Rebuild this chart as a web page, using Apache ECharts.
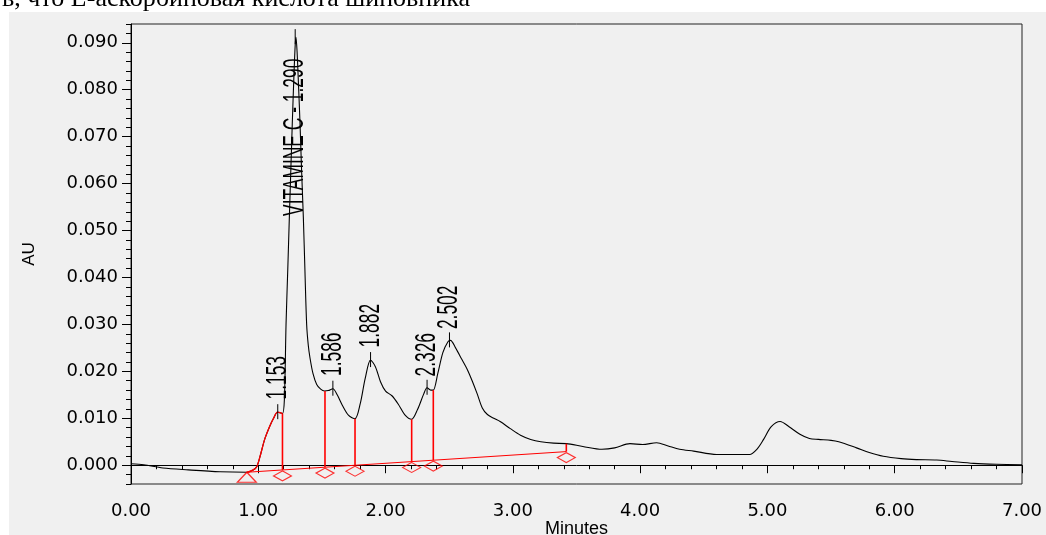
<!DOCTYPE html>
<html>
<head>
<meta charset="utf-8">
<script src="https://cdn.jsdelivr.net/npm/echarts@6/dist/echarts.min.js"></script>
<style>
  html, body { margin: 0; padding: 0; background: #fff; }
  #chart { width: 1046px; height: 535px; }
</style>
</head>
<body>
<div id="chart"></div>
<script>
// chromatogram trace (minutes, AU)
const times = [0.00,0.10,0.25,0.45,0.70,0.91,0.96,0.99,1.02,1.05,1.09,1.12,1.15,1.17,1.19,1.205,1.218,1.232,1.244,1.257,1.267,1.28,1.29,1.296,1.305,1.316,1.328,1.34,1.354,1.367,1.38,1.393,1.406,1.43,1.459,1.49,1.52,1.55,1.586,1.62,1.66,1.71,1.76,1.80,1.84,1.882,1.92,1.96,2.00,2.05,2.10,2.15,2.205,2.25,2.30,2.326,2.355,2.375,2.41,2.45,2.49,2.51,2.55,2.60,2.64,2.68,2.72,2.76,2.80,2.85,2.90,2.98,3.06,3.14,3.22,3.32,3.42,3.55,3.70,3.80,3.92,4.02,4.13,4.22,4.31,4.42,4.60,4.75,4.86,4.92,4.97,5.03,5.10,5.17,5.255,5.33,5.40,5.50,5.56,5.70,5.80,5.91,6.05,6.17,6.33,6.45,6.62,6.80,7.00]
const signal = [0.0003,0.0001,-0.0006,-0.0010,-0.0014,-0.0015,-0.0010,-0.0002,0.0025,0.0055,0.0083,0.0100,0.0113,0.0112,0.0110,0.0140,0.0300,0.0420,0.0528,0.0640,0.0727,0.0830,0.0895,0.0912,0.0880,0.0810,0.0727,0.0630,0.0528,0.0410,0.0300,0.0255,0.0229,0.0195,0.0172,0.0162,0.0158,0.0159,0.0163,0.0150,0.0128,0.0106,0.0099,0.0130,0.0185,0.0224,0.0210,0.0178,0.0158,0.0148,0.0130,0.0108,0.0098,0.0118,0.0152,0.0165,0.0160,0.0160,0.0195,0.0240,0.0263,0.0266,0.0250,0.0225,0.0205,0.0180,0.0152,0.0122,0.0108,0.0100,0.0093,0.0078,0.0064,0.0055,0.0050,0.0047,0.0046,0.0040,0.0034,0.0037,0.0046,0.0044,0.0048,0.0041,0.0034,0.0030,0.0023,0.0023,0.0023,0.0035,0.0055,0.0082,0.0093,0.0082,0.0066,0.0057,0.0055,0.0053,0.0050,0.0037,0.0027,0.0019,0.0014,0.0012,0.0011,0.0008,0.0004,0.0002,0.0001]
// first integrated peak drawn in red (index range in the trace)
const redFrom = 5
const redTo = 14

// peak labels
const peakTimes = [1.153, 1.290, 1.586, 1.882, 2.326, 2.502]
const peakApex = [0.0113, 0.0912, 0.0163, 0.0224, 0.0165, 0.0266]
const peakLabelAt = [0.0140, 0.0531, 0.0190, 0.0251, 0.0189, 0.0290]
const peakNames = ['1.153', 'VITAMINE C - 1.290', '1.586', '1.882', '2.326', '2.502']

// integration baseline and drop lines
const baseTimes = [0.91, 3.42]
const baseValues = [-0.0015, 0.0029]
const dropTimes = [1.19, 1.524, 1.76, 2.205, 2.375, 3.42]
const dropTops = [0.0110, 0.0158, 0.0099, 0.0098, 0.0160, 0.0046]
const dropBases = [-0.0010, -0.0004, 0.0000, 0.0008, 0.0011, 0.0029]

// axis ticks
const yTicks = [0, 0.01, 0.02, 0.03, 0.04, 0.05, 0.06, 0.07, 0.08, 0.09]
const yMinorTicks = []
for (let i = -2; i <= 47; i++) yMinorTicks.push(+(i * 0.002).toFixed(3))

const chart = echarts.init(document.getElementById('chart'))

const trace = times.map((t, i) => [t, signal[i]])
const redTrace = trace.slice(redFrom, redTo + 1)

const renderPeakLabel = (params, api) => {
  const i = params.dataIndex
  const p = api.coord([api.value(0), api.value(1)])
  const q = api.coord([api.value(0), api.value(2)])
  return {
    type: 'group',
    children: [
      { type: 'line', shape: { x1: p[0], y1: p[1] - 8, x2: p[0], y2: p[1] + 7 }, style: { stroke: '#000', lineWidth: 1 } },
      {
        type: 'text', x: p[0], y: q[1], rotation: Math.PI / 2, scaleX: 0.6,
        style: { text: peakNames[i], font: '29px "Liberation Sans", Arial, sans-serif', fill: '#000', align: 'left', verticalAlign: 'middle' }
      }
    ]
  }
}

const renderDrop = (params, api) => {
  const a = api.coord([api.value(0), api.value(1)])
  const b = api.coord([api.value(0), api.value(2)])
  return { type: 'line', shape: { x1: a[0], y1: a[1], x2: b[0], y2: b[1] }, style: { stroke: '#ff0000', lineWidth: 1.6 } }
}

const option = {
  backgroundColor: '#fff',
  animation: false,
  graphic: [
    { type: 'rect', left: 9, top: 12, z: -10, shape: { width: 1037, height: 523 }, style: { fill: '#f0f0f0' } },
    { type: 'text', left: 2, top: -14, style: { text: 'в, что L-аскорбиновая кислота шиповника', font: '26px "Liberation Serif", "Times New Roman", serif', fill: '#000' } }
  ],
  grid: {
    left: 131, right: 24, top: 24, bottom: 51, outerBoundsMode: 'none', containLabel: false,
    show: true, borderColor: '#222', borderWidth: 1, backgroundColor: 'transparent'
  },
  xAxis: {
    type: 'value', min: 0, max: 7, interval: 1,
    name: 'Minutes', nameLocation: 'middle', nameGap: 36, nameMoveOverlap: false,
    nameTextStyle: { fontFamily: '"Liberation Sans", Arial, sans-serif', fontSize: 18, color: '#000', verticalAlign: 'top' },
    axisLine: { lineStyle: { color: '#000' } },
    axisTick: { length: 8, lineStyle: { color: '#000' } },
    minorTick: { show: true, splitNumber: 5, length: 4, lineStyle: { color: '#000' } },
    axisLabel: { formatter: v => v.toFixed(2), fontFamily: '"DejaVu Sans", sans-serif', fontSize: 18, color: '#000', margin: 18 },
    splitLine: { show: false }
  },
  yAxis: [
    {
      type: 'value', min: -0.004, max: 0.094,
      name: 'AU', nameLocation: 'middle', nameGap: 93, nameRotate: 90,
      nameTextStyle: { fontFamily: '"Liberation Sans", Arial, sans-serif', fontSize: 17, color: '#000' },
      axisLine: { show: true, lineStyle: { color: '#000' } },
      axisTick: { show: true, length: 9, customValues: yTicks, lineStyle: { color: '#000' } },
      axisLabel: { customValues: yTicks, formatter: v => v.toFixed(3), fontFamily: '"DejaVu Sans", sans-serif', fontSize: 18, color: '#000', margin: 13 },
      splitLine: { show: false }
    },
    {
      type: 'value', min: -0.004, max: 0.094, position: 'left',
      axisLine: { show: false },
      axisTick: { show: true, length: 5, customValues: yMinorTicks, lineStyle: { color: '#000' } },
      axisLabel: { show: false },
      splitLine: { show: false }
    }
  ],
  series: [
    {
      type: 'line', data: trace, showSymbol: false, symbol: 'none', smooth: 0.3,
      lineStyle: { color: '#000', width: 1.1 }, z: 3
    },
    {
      type: 'line', data: redTrace, showSymbol: false, symbol: 'none', smooth: 0.3,
      lineStyle: { color: '#ff0000', width: 1.3 }, z: 4
    },
    {
      type: 'line', data: baseTimes.map((t, i) => [t, baseValues[i]]), showSymbol: false, symbol: 'none',
      lineStyle: { color: '#ff0000', width: 1 }, z: 4
    },
    {
      type: 'custom', renderItem: renderDrop, z: 5,
      data: dropTimes.map((t, i) => [t, dropTops[i], dropBases[i]]),
      encode: { x: 0, y: 1 }
    },
    {
      type: 'scatter', symbol: 'diamond', symbolSize: [18, 10], symbolOffset: [0, 6], z: 5,
      itemStyle: { color: 'rgba(0,0,0,0)', borderColor: '#ff0000', borderWidth: 1.2 },
      data: dropTimes.map((t, i) => [t, dropBases[i]])
    },
    {
      type: 'scatter', symbol: 'triangle', symbolSize: [19, 10], symbolOffset: [0, 5], z: 5,
      itemStyle: { color: 'rgba(0,0,0,0)', borderColor: '#ff0000', borderWidth: 1.2 },
      data: [[baseTimes[0], baseValues[0]]]
    },
    {
      type: 'custom', renderItem: renderPeakLabel, z: 6,
      data: peakTimes.map((t, i) => [t, peakApex[i], peakLabelAt[i]]),
      encode: { x: 0, y: 1 }
    }
  ]
}

chart.setOption(option)
</script>
</body>
</html>
